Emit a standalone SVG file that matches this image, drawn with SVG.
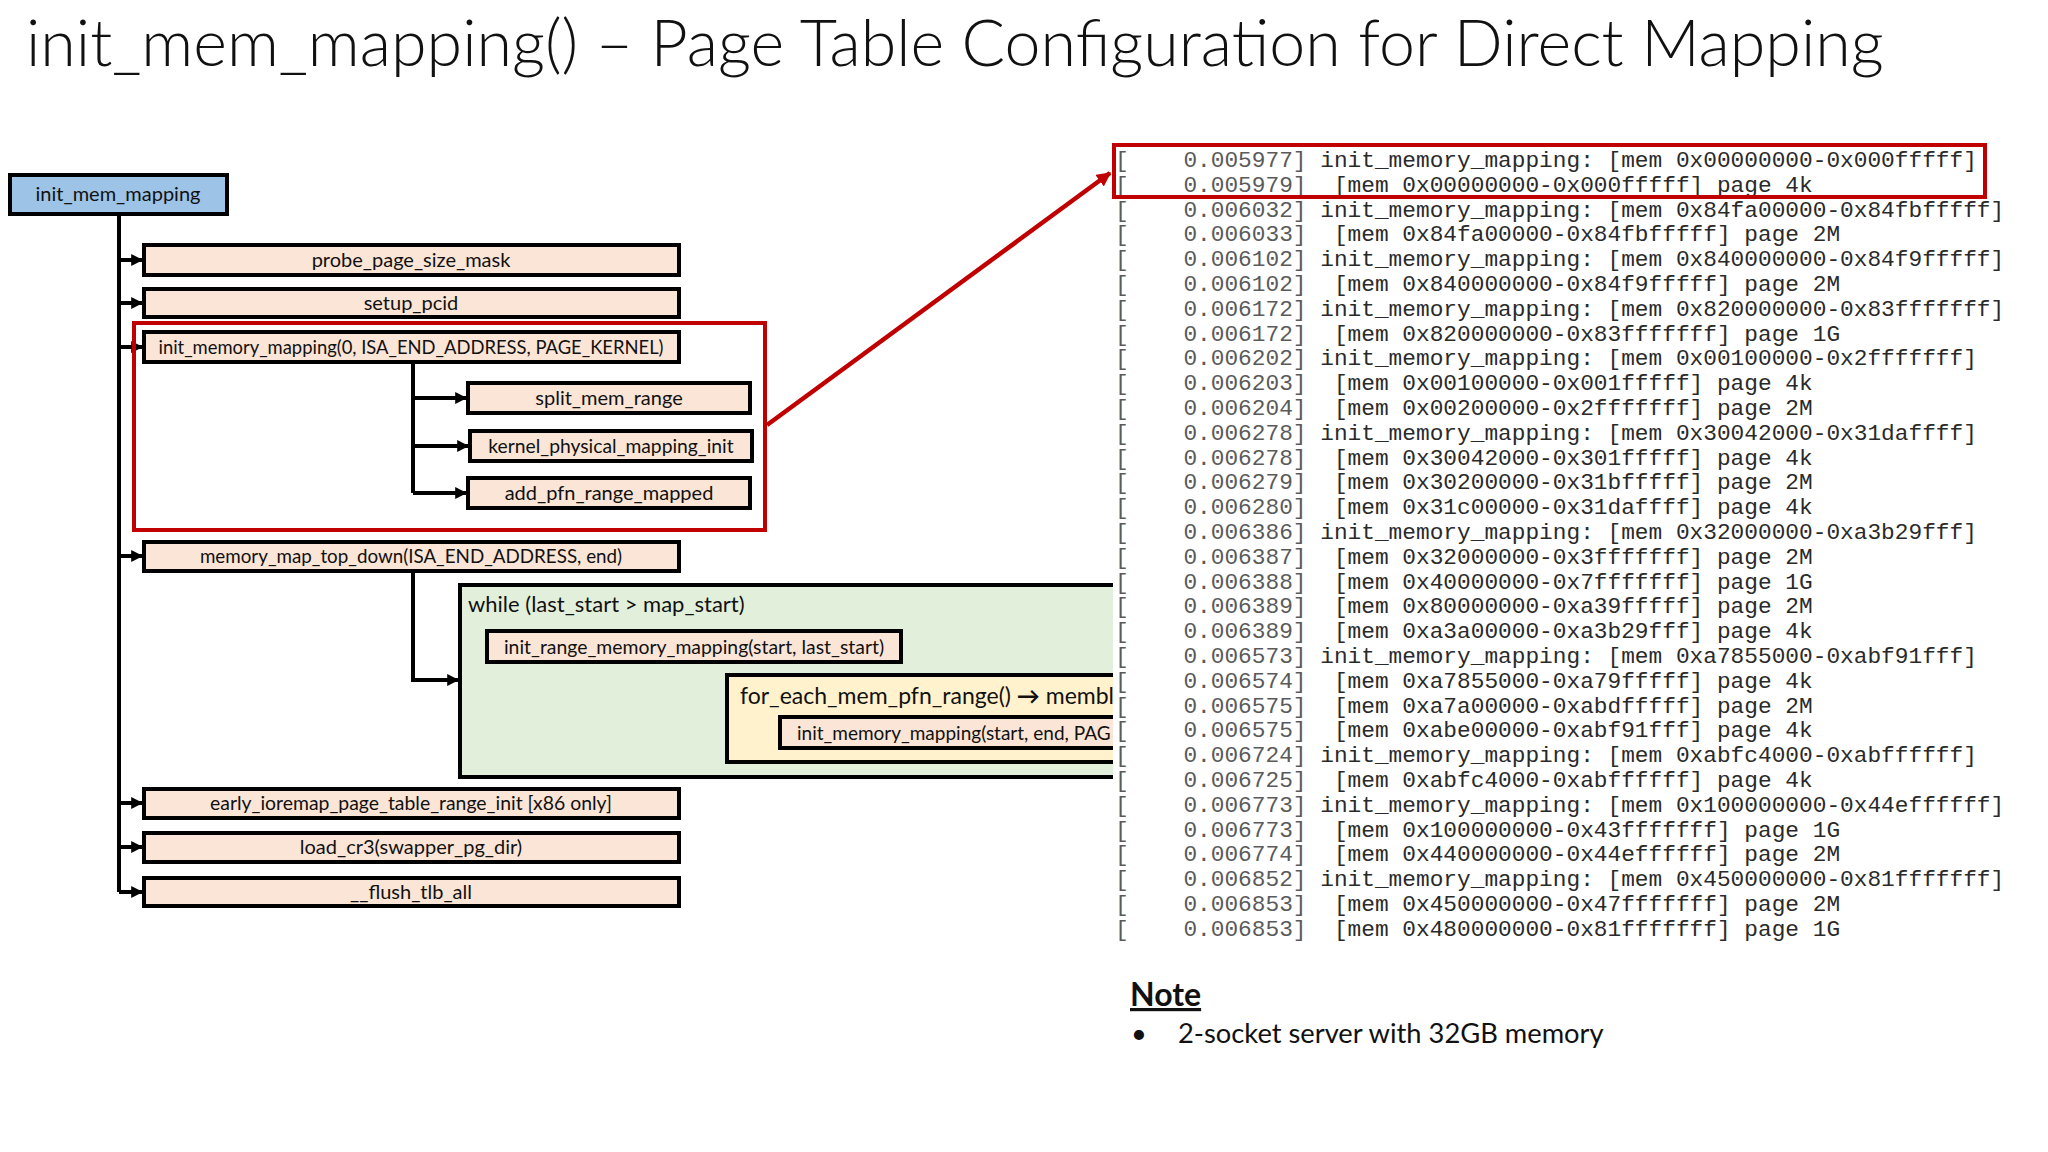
<svg xmlns="http://www.w3.org/2000/svg" width="2048" height="1152" viewBox="0 0 2048 1152">
<defs>
<style>
.t{font-family:Lato,"Open Sans",sans-serif;fill:#111}
.box{fill:#FBE5D6;stroke:#000;stroke-width:4}
.lbl{font-family:Lato,"Open Sans",sans-serif;font-size:20px;fill:#111;text-anchor:middle}
.ln{fill:none;stroke:#000;stroke-width:4}
.log{font-family:"Liberation Mono","DejaVu Sans Mono",monospace;font-size:22.8px;fill:#2a2a2a;white-space:pre}
.ts{fill:#5a5a5a}
</style>
<marker id="ah" viewBox="0 0 10 10" refX="9" refY="5" markerWidth="3" markerHeight="3" orient="auto" markerUnits="strokeWidth">
<path d="M0,0 L10,5 L0,10 z" fill="#000"/>
</marker>
<marker id="ahr" viewBox="0 0 10 10" refX="9" refY="5" markerWidth="3.2" markerHeight="3.2" orient="auto" markerUnits="strokeWidth">
<path d="M0,0 L10,5 L0,10 z" fill="#C00000"/>
</marker>
<clipPath id="clipL"><rect x="0" y="0" width="1113" height="1152"/></clipPath>
</defs>
<rect width="2048" height="1152" fill="#fff"/>
<text class="t" x="26" y="66" style="font-size:64.5px;font-weight:300">init_mem_mapping() – Page Table Configuration for Direct Mapping</text>

<g id="connectors">
<path class="ln" d="M119,214 V892"/>
<path class="ln" d="M119,260 H142" marker-end="url(#ah)"/>
<path class="ln" d="M119,303 H142" marker-end="url(#ah)"/>
<path class="ln" d="M119,347 H142" marker-end="url(#ah)"/>
<path class="ln" d="M119,556 H142" marker-end="url(#ah)"/>
<path class="ln" d="M119,803 H142" marker-end="url(#ah)"/>
<path class="ln" d="M119,847 H142" marker-end="url(#ah)"/>
<path class="ln" d="M119,892 H142" marker-end="url(#ah)"/>
<path class="ln" d="M413,362 V493"/>
<path class="ln" d="M411,398 H466" marker-end="url(#ah)"/>
<path class="ln" d="M411,446 H468" marker-end="url(#ah)"/>
<path class="ln" d="M413,493 H466" marker-end="url(#ah)"/>
<path class="ln" d="M413,571 V680 H458" marker-end="url(#ah)"/>
<path class="ln" d="M694,662 V718 H725" marker-end="url(#ah)"/>
<path d="M767,425 L1110,173" fill="none" stroke="#C00000" stroke-width="4.5" marker-end="url(#ahr)"/>
</g>

<g id="n-init_mem_mapping">
<rect x="10" y="175" width="217" height="39" fill="#9DC3E6" stroke="#000" stroke-width="4"/>
<text class="lbl" x="118" y="201">init_mem_mapping</text>
</g>
<g id="n-probe_page_size_mask">
<rect class="box" x="144" y="245" width="535" height="30"/>
<text class="lbl" x="411" y="267">probe_page_size_mask</text>
</g>
<g id="n-setup_pcid">
<rect class="box" x="144" y="289" width="535" height="28"/>
<text class="lbl" x="411" y="310">setup_pcid</text>
</g>
<g id="n-highlight">
<rect x="134" y="323" width="631" height="207" fill="none" stroke="#C00000" stroke-width="4"/>
</g>
<g id="n-init_memory_mapping0">
<rect class="box" x="144" y="332" width="535" height="30"/>
<text class="lbl" x="411" y="354" style="font-size:18.4px">init_memory_mapping(0, ISA_END_ADDRESS, PAGE_KERNEL)</text>
</g>
<g id="n-split_mem_range">
<rect class="box" x="468" y="383" width="282" height="30"/>
<text class="lbl" x="609" y="405">split_mem_range</text>
</g>
<g id="n-kernel_physical_mapping_init">
<rect class="box" x="470" y="431" width="282" height="30"/>
<text class="lbl" x="611" y="453" style="font-size:19.3px">kernel_physical_mapping_init</text>
</g>
<g id="n-add_pfn_range_mapped">
<rect class="box" x="468" y="478" width="282" height="30"/>
<text class="lbl" x="609" y="500">add_pfn_range_mapped</text>
</g>
<g id="n-memory_map_top_down">
<rect class="box" x="144" y="542" width="535" height="29"/>
<text class="lbl" x="411" y="563" style="font-size:18.8px">memory_map_top_down(ISA_END_ADDRESS, end)</text>
</g>
<g id="n-while" clip-path="url(#clipL)">
<rect x="460" y="585" width="700" height="192" fill="#E2EFDA" stroke="#000" stroke-width="4"/>
<text class="t" x="468" y="612" style="font-size:22px">while (last_start &gt; map_start)</text>
</g>
<g id="n-init_range_memory_mapping">
<rect class="box" x="487" y="631" width="414" height="31"/>
<text class="lbl" x="694" y="654" style="font-size:19.4px">init_range_memory_mapping(start, last_start)</text>
</g>
<g id="n-for_each_mem_pfn_range" clip-path="url(#clipL)">
<rect x="727" y="675" width="500" height="87" fill="#FFF2CC" stroke="#000" stroke-width="4"/>
<text class="t" x="740" y="704" style="font-size:23px">for_each_mem_pfn_range() <tspan style="font-weight:bold">→</tspan> membl</text>
</g>
<g id="n-init_memory_mapping_loop" clip-path="url(#clipL)">
<rect class="box" x="780" y="717" width="450" height="31"/>
<text class="t" x="797" y="740" style="font-size:19px">init_memory_mapping(start, end, PAG</text>
</g>
<g id="n-early_ioremap">
<rect class="box" x="144" y="789" width="535" height="29"/>
<text class="lbl" x="411" y="810" style="font-size:19.4px">early_ioremap_page_table_range_init [x86 only]</text>
</g>
<g id="n-load_cr3">
<rect class="box" x="144" y="833" width="535" height="29"/>
<text class="lbl" x="411" y="854">load_cr3(swapper_pg_dir)</text>
</g>
<g id="n-flush_tlb_all">
<rect class="box" x="144" y="878" width="535" height="28"/>
<text class="lbl" x="411" y="899">__flush_tlb_all</text>
</g>

<g id="n-log">
<text class="log" x="1115" y="167"><tspan class="ts">[    0.005977]</tspan> init_memory_mapping: [mem 0x00000000-0x000fffff]</text>
<text class="log" x="1115" y="191.8"><tspan class="ts">[    0.005979]</tspan>  [mem 0x00000000-0x000fffff] page 4k</text>
<text class="log" x="1115" y="216.6"><tspan class="ts">[    0.006032]</tspan> init_memory_mapping: [mem 0x84fa00000-0x84fbfffff]</text>
<text class="log" x="1115" y="241.4"><tspan class="ts">[    0.006033]</tspan>  [mem 0x84fa00000-0x84fbfffff] page 2M</text>
<text class="log" x="1115" y="266.2"><tspan class="ts">[    0.006102]</tspan> init_memory_mapping: [mem 0x840000000-0x84f9fffff]</text>
<text class="log" x="1115" y="291"><tspan class="ts">[    0.006102]</tspan>  [mem 0x840000000-0x84f9fffff] page 2M</text>
<text class="log" x="1115" y="315.8"><tspan class="ts">[    0.006172]</tspan> init_memory_mapping: [mem 0x820000000-0x83fffffff]</text>
<text class="log" x="1115" y="340.6"><tspan class="ts">[    0.006172]</tspan>  [mem 0x820000000-0x83fffffff] page 1G</text>
<text class="log" x="1115" y="365.4"><tspan class="ts">[    0.006202]</tspan> init_memory_mapping: [mem 0x00100000-0x2fffffff]</text>
<text class="log" x="1115" y="390.2"><tspan class="ts">[    0.006203]</tspan>  [mem 0x00100000-0x001fffff] page 4k</text>
<text class="log" x="1115" y="415"><tspan class="ts">[    0.006204]</tspan>  [mem 0x00200000-0x2fffffff] page 2M</text>
<text class="log" x="1115" y="439.8"><tspan class="ts">[    0.006278]</tspan> init_memory_mapping: [mem 0x30042000-0x31daffff]</text>
<text class="log" x="1115" y="464.6"><tspan class="ts">[    0.006278]</tspan>  [mem 0x30042000-0x301fffff] page 4k</text>
<text class="log" x="1115" y="489.4"><tspan class="ts">[    0.006279]</tspan>  [mem 0x30200000-0x31bfffff] page 2M</text>
<text class="log" x="1115" y="514.2"><tspan class="ts">[    0.006280]</tspan>  [mem 0x31c00000-0x31daffff] page 4k</text>
<text class="log" x="1115" y="539"><tspan class="ts">[    0.006386]</tspan> init_memory_mapping: [mem 0x32000000-0xa3b29fff]</text>
<text class="log" x="1115" y="563.8"><tspan class="ts">[    0.006387]</tspan>  [mem 0x32000000-0x3fffffff] page 2M</text>
<text class="log" x="1115" y="588.6"><tspan class="ts">[    0.006388]</tspan>  [mem 0x40000000-0x7fffffff] page 1G</text>
<text class="log" x="1115" y="613.4"><tspan class="ts">[    0.006389]</tspan>  [mem 0x80000000-0xa39fffff] page 2M</text>
<text class="log" x="1115" y="638.2"><tspan class="ts">[    0.006389]</tspan>  [mem 0xa3a00000-0xa3b29fff] page 4k</text>
<text class="log" x="1115" y="663"><tspan class="ts">[    0.006573]</tspan> init_memory_mapping: [mem 0xa7855000-0xabf91fff]</text>
<text class="log" x="1115" y="687.8"><tspan class="ts">[    0.006574]</tspan>  [mem 0xa7855000-0xa79fffff] page 4k</text>
<text class="log" x="1115" y="712.6"><tspan class="ts">[    0.006575]</tspan>  [mem 0xa7a00000-0xabdfffff] page 2M</text>
<text class="log" x="1115" y="737.4"><tspan class="ts">[    0.006575]</tspan>  [mem 0xabe00000-0xabf91fff] page 4k</text>
<text class="log" x="1115" y="762.2"><tspan class="ts">[    0.006724]</tspan> init_memory_mapping: [mem 0xabfc4000-0xabffffff]</text>
<text class="log" x="1115" y="787"><tspan class="ts">[    0.006725]</tspan>  [mem 0xabfc4000-0xabffffff] page 4k</text>
<text class="log" x="1115" y="811.8"><tspan class="ts">[    0.006773]</tspan> init_memory_mapping: [mem 0x100000000-0x44effffff]</text>
<text class="log" x="1115" y="836.6"><tspan class="ts">[    0.006773]</tspan>  [mem 0x100000000-0x43fffffff] page 1G</text>
<text class="log" x="1115" y="861.4"><tspan class="ts">[    0.006774]</tspan>  [mem 0x440000000-0x44effffff] page 2M</text>
<text class="log" x="1115" y="886.2"><tspan class="ts">[    0.006852]</tspan> init_memory_mapping: [mem 0x450000000-0x81fffffff]</text>
<text class="log" x="1115" y="911"><tspan class="ts">[    0.006853]</tspan>  [mem 0x450000000-0x47fffffff] page 2M</text>
<text class="log" x="1115" y="935.8"><tspan class="ts">[    0.006853]</tspan>  [mem 0x480000000-0x81fffffff] page 1G</text>
<rect x="1114" y="145" width="871" height="52" fill="none" stroke="#C00000" stroke-width="4"/>
</g>

<g id="n-note">
<text class="t" x="1130" y="1006" style="font-size:32px;font-weight:bold;text-decoration:underline">Note</text>
<text class="t" x="1131" y="1043" style="font-size:27.3px">•</text>
<text class="t" x="1178" y="1043" style="font-size:27.3px">2-socket server with 32GB memory</text>
</g>
</svg>
